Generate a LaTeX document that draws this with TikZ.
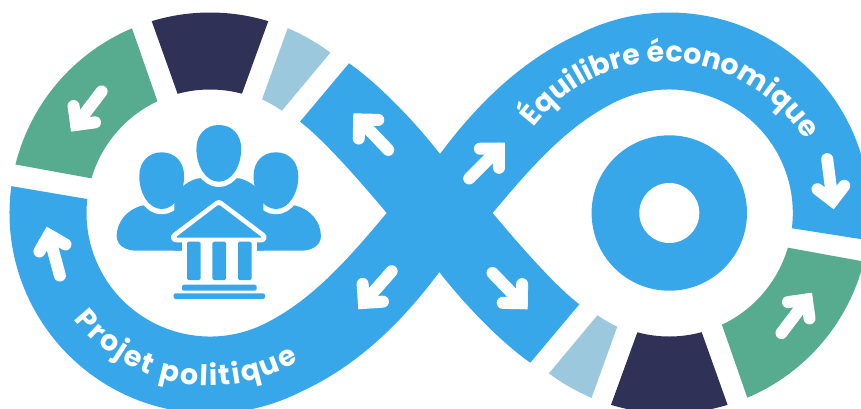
\documentclass[tikz,border=0pt]{standalone}
\usepackage{fontspec}
\setmainfont{Poppins}
\usetikzlibrary{decorations.text,calc}
\definecolor{bandblue}{HTML}{38A7EA}
\definecolor{seggreen}{HTML}{57AB8E}
\definecolor{segnavy}{HTML}{2F3157}
\definecolor{seglight}{HTML}{9BC8DD}
\tikzset{
  band/.style={fill=bandblue,draw=none},
  halo/.style={fill=bandblue,preaction={draw=white,line width=10.6pt,line join=round}},
  iconfill/.style={fill=bandblue,draw=none},
  arrowline/.style={draw=white,line width=12pt,line cap=round,miter limit=10},
}
\newcommand\arrowicon[4]{%
  \pgfmathsetmacro\arrang{atan2((#4)-(#2),(#1)-(#3))}%
  \begin{scope}[shift={(#1,-#2)},rotate=\arrang]
    \draw[arrowline] (-50.6,0) -- (-8.5,0);
    \draw[arrowline,line join=miter] (-22,13.5) -- (-8.5,0) -- (-22,-13.5);
  \end{scope}}
\newcommand\segment[7]{% colour, outer a1,a2, inner a2',a1', Rout, Rin
  \fill[#1] ($(210,-213)+(#2:#6)$) arc[start angle=#2,end angle=#3,radius=#6]
     -- ($(210,-213)+(#4:#7)$) arc[start angle=#4,end angle=#5,radius=#7] -- cycle;}
\newcommand\segmentset{%
  \segment{seggreen}{166}{112.9}{115.2}{163.7}{200.5}{123.5}
  \segment{segnavy}{106.9}{73.1}{75}{105.2}{200.5}{123.5}
  \segment{seglight}{67.2}{53.1}{54.9}{65.4}{200.5}{125}}
\newcommand\headshape{%
  (0,0) .. controls (12.8,0) and (22.4,9) .. (22.4,24)
  .. controls (22.4,41) and (13,56.7) .. (0,56.7)
  .. controls (-13,56.7) and (-22.4,41) .. (-22.4,24)
  .. controls (-22.4,9) and (-12.8,0) .. (0,0) -- cycle}
\begin{document}
\begin{tikzpicture}[x=1pt,y=1pt]
\clip (0,0) rectangle (861,-408);
% band A : lower left to upper right
\path[band] ($(210,-213)+(172.3:200.5)$) arc[start angle=172.3,end angle=297,radius=200.5]
  .. controls (355,-367) and (400,-325) .. (439.3,-272) -- (492.6,-213)
  .. controls (528.6,-170.1) and (566.6,-125.2) .. ($(669.3,-213)+(115:123.5)$)
  arc[start angle=115,end angle=-7.1,radius=123.5]
  -- ($(669.3,-213)+(-7.8:200.5)$) arc[start angle=-7.8,end angle=117,radius=200.5]
  .. controls (524.3,-59) and (479.3,-101) .. (440,-154) -- (386.7,-213)
  .. controls (350.7,-255.9) and (312.7,-300.8) .. ($(210,-213)+(295:123.5)$)
  arc[start angle=295,end angle=173.5,radius=123.5] -- cycle;
% band B : upper left to lower right
\path[band] (349,-63.3) .. controls (376,-82) and (412,-118) .. (440,-154) -- (492.6,-213)
  .. controls (513.2,-237.5) and (553.7,-285) .. (579.3,-304.3) -- (530.3,-362.7)
  .. controls (503.3,-344) and (467.3,-308) .. (439.3,-272) -- (386.7,-213)
  .. controls (366.1,-188.5) and (325.6,-141) .. (300,-121.7) -- cycle;
% coloured segments
\segmentset
\begin{scope}[rotate around={180:(439.65,-213)}]
\segmentset
\end{scope}
% target
\fill[bandblue] (669.3,-213) circle[radius=77.7];
\fill[white] (669.3,-213) circle[radius=30];
% arrows
\arrowicon{46.7}{226.7}{60}{276}
\arrowicon{71}{131.7}{102.7}{90}
\arrowicon{353.3}{113.3}{390}{151.7}
\arrowicon{358.3}{309.3}{392.7}{270}
\arrowicon{505}{142.7}{467}{180.7}
\arrowicon{833.7}{209.3}{827}{157.7}
\arrowicon{812}{292.7}{780}{335}
\arrowicon{527.7}{309.3}{490.3}{270.7}
% labels
\path[decorate,decoration={text along path,text color=white,text align={fit to path},
  text={|\bfseries\fontsize{28.5}{28.5}\selectfont|Projet politique}}]
  ($(210,-213)+(218:172.5)$) arc[start angle=218,end angle=301,radius=172.5];
\path[decorate,decoration={text along path,text color=white,text align={fit to path},
  text={|\bfseries\fontsize{28.5}{28.5}\selectfont|Équilibre économique}}]
  ($(665,-226)+(143:164)$) arc[start angle=143,end angle=32,radius=164];
% icon : people
\foreach \mirror/\off in {1/0,-1/437.6}{
\begin{scope}[shift={(\off,0)},xscale=\mirror]
  \path[iconfill] (143.3,-205.3) .. controls (127,-209) and (116.7,-222) .. (116.7,-236)
    .. controls (116.7,-245) and (125,-250.7) .. (137,-250.7) -- (219,-250.7) -- (219,-205) -- cycle;
  \begin{scope}[shift={(161.7,-152.3)},yscale=-1]
    \path[halo] \headshape;
  \end{scope}
\end{scope}}
\path[iconfill] (174.3,-198.3) .. controls (176,-190) and (190,-178) .. (202,-178) -- (235.6,-178)
  .. controls (247.6,-178) and (261.6,-190) .. (263.3,-198.3) -- (263.3,-250.7) -- (174.3,-250.7) -- cycle;
\begin{scope}[shift={(218.8,-125)},yscale=-1]
  \path[halo] \headshape;
\end{scope}
% icon : building
\fill[white] (181.7,-236) rectangle (256.7,-256);
\draw[draw=white,line width=10pt,line join=round,fill=white] (218.8,-205) -- (176,-237.3) -- (261.6,-237.3) -- cycle;
\fill[bandblue,rounded corners=1.5pt] (218.8,-204.5) -- (175.5,-237.5) -- (262.1,-237.5) -- cycle;
\foreach \cx in {187,212.3,238}{
  \fill[bandblue,rounded corners=1.5pt] (\cx,-241.7) rectangle ++(13.7,-38.3);}
\fill[bandblue,rounded corners=2pt] (182,-284.7) rectangle (256.7,-290.7);
\fill[bandblue,rounded corners=2pt] (173.7,-293.3) rectangle (265,-299);
\end{tikzpicture}
\end{document}
